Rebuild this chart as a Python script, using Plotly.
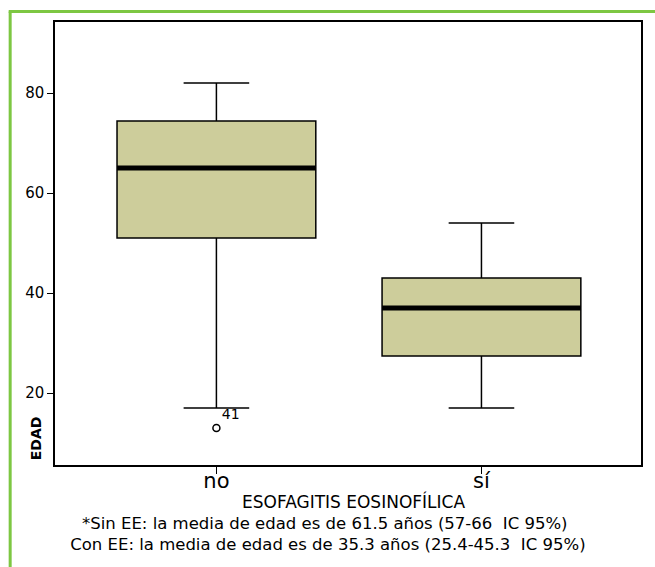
import plotly.graph_objects as go

# Age (EDAD) by eosinophilic esophagitis group
groups = ["no", "sí"]
positions = [0, 1]
q1 = [51, 27.4]
median = [65, 37]
q3 = [74.4, 43]
lower_whisker = [17, 17]
upper_whisker = [82, 54]

outlier_group = [0]
outlier_value = [13]
outlier_label = ["41"]

footer_lines = [
    "*Sin EE: la media de edad es de 61.5 años (57-66  IC 95%)",
    " Con EE: la media de edad es de 35.3 años (25.4-45.3  IC 95%)",
]

BOX_W = 0.75
FILL = "#cdcd9b"
FONT = "DejaVu Sans"

fig = go.Figure()

for pos, a, m, b, lo, hi in zip(positions, q1, median, q3, lower_whisker, upper_whisker):
    fig.add_trace(go.Box(
        x=[pos], q1=[a], median=[m], q3=[b], lowerfence=[lo], upperfence=[hi],
        width=BOX_W, whiskerwidth=0.33, fillcolor=FILL,
        line=dict(color="black", width=1.5), boxpoints=False,
        showlegend=False, hoverinfo="skip",
    ))
    # heavier median bar across the box
    fig.add_trace(go.Scatter(
        x=[pos - BOX_W / 2, pos + BOX_W / 2], y=[m, m], mode="lines",
        line=dict(color="black", width=5), showlegend=False, hoverinfo="skip",
    ))

fig.add_trace(go.Scatter(
    x=outlier_group, y=outlier_value, mode="markers+text",
    marker=dict(symbol="circle-open", size=7, color="black", line=dict(width=1.5)),
    text=outlier_label, textposition="top right",
    textfont=dict(family=FONT, size=14, color="black"),
    showlegend=False, hoverinfo="skip",
))

fig.update_xaxes(
    range=[-0.609, 1.602], tickvals=positions, ticktext=groups,
    showline=True, linecolor="black", linewidth=1.5, mirror=True,
    ticks="outside", ticklen=7, tickcolor="black", showgrid=False, zeroline=False,
    tickfont=dict(family=FONT, size=21, color="black"),
    ticklabelstandoff=-11,
)
fig.update_yaxes(
    range=[5.6, 94.2], tickvals=[20, 40, 60, 80],
    showline=True, linecolor="black", linewidth=1.5, mirror=True,
    ticks="outside", ticklen=6, tickcolor="black", showgrid=False, zeroline=False,
    tickfont=dict(family=FONT, size=15, color="black"),
)

annotations = [
    dict(text="<b>EDAD</b>", textangle=-90, xref="paper", yref="paper",
         x=-0.031, y=0.06, xanchor="center", yanchor="middle", showarrow=False,
         font=dict(family=FONT, size=14, color="black")),
    dict(text="ESOFAGITIS EOSINOFÍLICA", xref="paper", yref="paper",
         x=0.51, y=-0.082, xanchor="center", yanchor="middle", showarrow=False,
         font=dict(family=FONT, size=17, color="black")),
]
for i, line in enumerate(footer_lines):
    annotations.append(dict(
        text=line, xref="paper", yref="paper", x=0.461, y=-0.133 - i * 0.046,
        xanchor="center", yanchor="middle", showarrow=False,
        font=dict(family=FONT, size=16.5, color="black"),
    ))

# green frame around the figure (left and top edges)
shapes = [
    dict(type="line", xref="paper", yref="paper", x0=-0.0765, x1=-0.0765,
         y0=1.0237, y1=-0.24, line=dict(color="#7dc742", width=3)),
    dict(type="line", xref="paper", yref="paper", x0=-0.079, x1=1.03,
         y0=1.0237, y1=1.0237, line=dict(color="#7dc742", width=3)),
]

fig.update_layout(
    width=655, height=567,
    margin=dict(l=55, r=12, t=22, b=102),
    paper_bgcolor="white", plot_bgcolor="white",
    annotations=annotations, shapes=shapes,
)

fig.write_html("out.html")
